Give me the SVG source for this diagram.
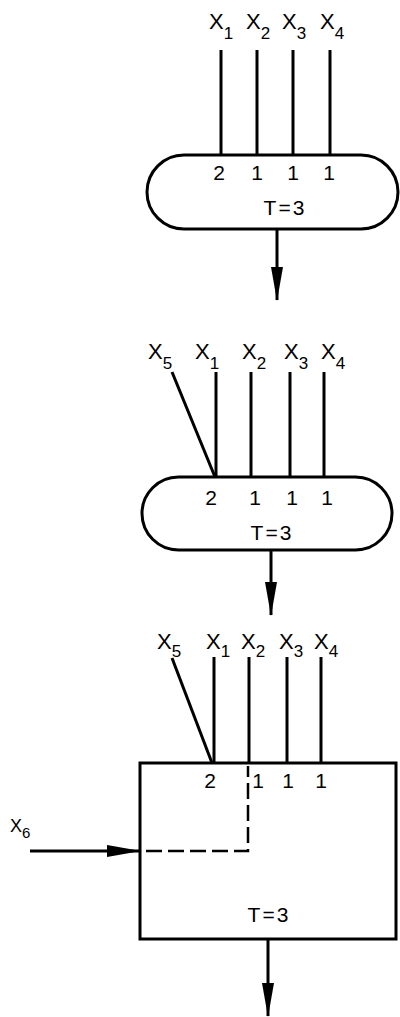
<svg xmlns="http://www.w3.org/2000/svg" width="400" height="1017" viewBox="0 0 400 1017">
<style>
  text { font-family: "Liberation Sans", Arial, sans-serif; fill: #000; }
  .lbl { font-size: 22px; }
  .sub { font-size: 17px; }
  .dig { font-size: 21px; text-anchor: middle; }
  .t { font-size: 21px; text-anchor: middle; letter-spacing: 2px; }
  .in { stroke: #000; stroke-width: 3; fill: none; }
  .shape { stroke: #000; stroke-width: 3; fill: #fff; }
  .dash { stroke: #000; stroke-width: 2.5; fill: none; stroke-dasharray: 16 6; }
  .arr { stroke: #000; stroke-width: 3; fill: none; marker-end: url(#ah); }
</style>
<defs>
  <marker id="ah" viewBox="0 0 34 12" refX="33" refY="6" markerWidth="34" markerHeight="12" markerUnits="userSpaceOnUse" orient="auto">
    <path d="M0,0 L34,6 L0,12 Z" fill="#000"/>
  </marker>
</defs>

<!-- Diagram 1 -->
<g id="node1">
  <rect class="shape" x="147" y="155" width="251" height="74" rx="37" ry="37"/>
  <text class="dig" x="219" y="180">2</text>
  <text class="dig" x="257" y="180">1</text>
  <text class="dig" x="293" y="180">1</text>
  <text class="dig" x="329" y="180">1</text>
  <text class="t" x="285" y="215">T=3</text>
</g>
<g id="labels1">
  <text class="lbl" x="209" y="29">X<tspan class="sub" dy="10">1</tspan></text>
  <text class="lbl" x="246" y="29">X<tspan class="sub" dy="10">2</tspan></text>
  <text class="lbl" x="282" y="29">X<tspan class="sub" dy="10">3</tspan></text>
  <text class="lbl" x="320" y="29">X<tspan class="sub" dy="10">4</tspan></text>
</g>

<!-- Diagram 2 -->
<g id="node2">
  <rect class="shape" x="142" y="477" width="250" height="73" rx="36.5" ry="36.5"/>
  <text class="dig" x="211" y="505">2</text>
  <text class="dig" x="255" y="505">1</text>
  <text class="dig" x="292" y="505">1</text>
  <text class="dig" x="327" y="505">1</text>
  <text class="t" x="272" y="540">T=3</text>
</g>
<g id="labels2">
  <text class="lbl" x="148" y="359">X<tspan class="sub" dy="10">5</tspan></text>
  <text class="lbl" x="195" y="359">X<tspan class="sub" dy="10">1</tspan></text>
  <text class="lbl" x="242" y="359">X<tspan class="sub" dy="10">2</tspan></text>
  <text class="lbl" x="284" y="359">X<tspan class="sub" dy="10">3</tspan></text>
  <text class="lbl" x="321" y="359">X<tspan class="sub" dy="10">4</tspan></text>
</g>

<!-- Diagram 3 -->
<g id="node3">
  <rect class="shape" x="140" y="763" width="256" height="176"/>
  <text class="dig" x="210" y="788">2</text>
  <text class="dig" x="258" y="788">1</text>
  <text class="dig" x="288" y="788">1</text>
  <text class="dig" x="321" y="788">1</text>
  <text class="t" x="269" y="922">T=3</text>
</g>
<g id="labels3">
  <text class="lbl" x="157" y="649">X<tspan class="sub" dy="8">5</tspan></text>
  <text class="lbl" x="206" y="649">X<tspan class="sub" dy="8">1</tspan></text>
  <text class="lbl" x="241" y="649">X<tspan class="sub" dy="8">2</tspan></text>
  <text class="lbl" x="279" y="649">X<tspan class="sub" dy="8">3</tspan></text>
  <text class="lbl" x="314" y="649">X<tspan class="sub" dy="8">4</tspan></text>
  <text style="font-size:18px" x="10" y="832">X<tspan class="sub" style="font-size:15px" dy="6">6</tspan></text>
</g>

<g id="connectors">
  <!-- Diagram 1 inputs -->
  <line class="in" x1="221" y1="50" x2="221" y2="155"/>
  <line class="in" x1="257" y1="50" x2="257" y2="155"/>
  <line class="in" x1="293" y1="50" x2="293" y2="155"/>
  <line class="in" x1="330" y1="50" x2="330" y2="155"/>
  <line class="arr" x1="277" y1="229" x2="277" y2="300"/>

  <!-- Diagram 2 inputs -->
  <line class="in" x1="172" y1="372" x2="215" y2="477"/>
  <line class="in" x1="216" y1="372" x2="216" y2="477"/>
  <line class="in" x1="251" y1="372" x2="251" y2="477"/>
  <line class="in" x1="290" y1="372" x2="290" y2="477"/>
  <line class="in" x1="324" y1="372" x2="324" y2="477"/>
  <line class="arr" x1="271" y1="550" x2="271" y2="615"/>

  <!-- Diagram 3 inputs -->
  <line class="in" x1="172" y1="658" x2="212" y2="763"/>
  <line class="in" x1="214" y1="657" x2="214" y2="763"/>
  <line class="in" x1="249" y1="657" x2="249" y2="763"/>
  <line class="in" x1="287" y1="657" x2="287" y2="763"/>
  <line class="in" x1="321" y1="657" x2="321" y2="763"/>
  <line class="arr" x1="30" y1="851" x2="140" y2="851"/>
  <path class="dash" d="M146,851 H248 V766"/>
  <line class="arr" x1="268" y1="939" x2="268" y2="1016"/>
</g>
</svg>
